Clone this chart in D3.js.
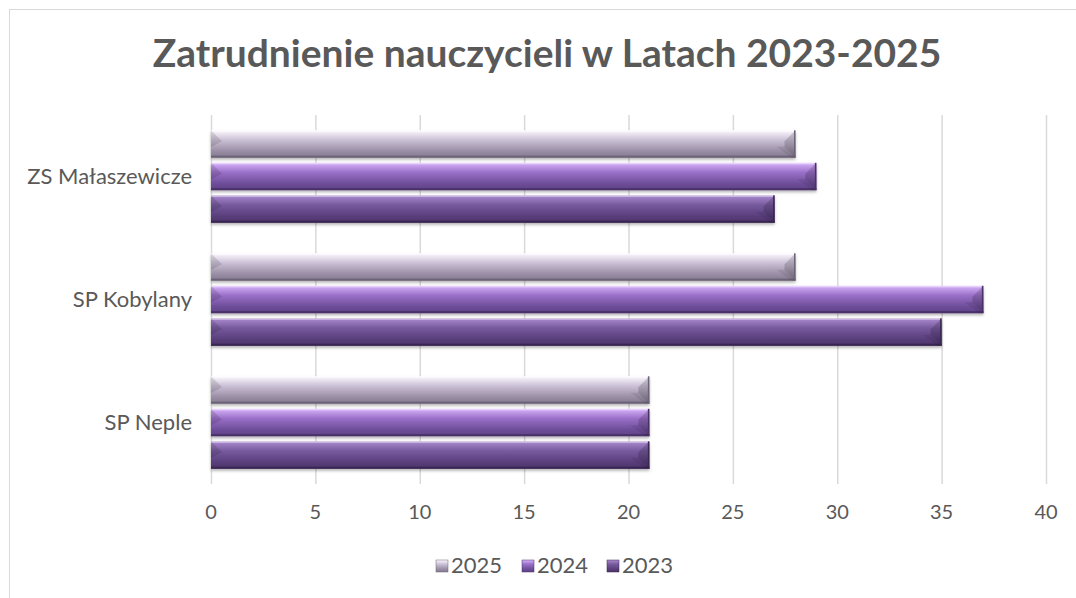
<!DOCTYPE html>
<html><head><meta charset="utf-8">
<script src="https://cdn.jsdelivr.net/npm/d3@7"></script>
<style>body{margin:0;background:#fff;}svg{display:block;font-family:Lato,"Open Sans",sans-serif;}</style>
</head><body>
<svg id="c" width="1076" height="598"></svg>
<script>
const categories = ["ZS Małaszewicze", "SP Kobylany", "SP Neple"];
const seriesNames = ["2025", "2024", "2023"];
const values2025 = [28, 28, 21];
const values2024 = [29, 37, 21];
const values2023 = [27, 35, 21];
const xTicks = [0, 5, 10, 15, 20, 25, 30, 35, 40];
const title = "Zatrudnienie nauczycieli w Latach 2023-2025";

const series = [
  {name: seriesNames[0], values: values2025, stops: ["#fdf9ff", "#cbc1d6", "#9a8fa6", "#847a90"], edge: "#6d6378"},
  {name: seriesNames[1], values: values2024, stops: ["#d7b2fb", "#9a70c8", "#6e4e9a", "#5e4286"], edge: "#4a3268"},
  {name: seriesNames[2], values: values2023, stops: ["#ab8ad0", "#775a9e", "#5a3f7c", "#4b3368"], edge: "#3a2652"}
];

const svg = d3.select("#c");
const defs = svg.append("defs");
series.forEach((s, i) => {
  const g = defs.append("linearGradient").attr("id", "g" + i).attr("x1", 0).attr("y1", 0).attr("x2", 0).attr("y2", 1);
  [0, 0.35, 0.75, 1].forEach((o, j) => g.append("stop").attr("offset", o).attr("stop-color", s.stops[j]));
});
const f = defs.append("filter").attr("id", "sh").attr("x", "-5%").attr("y", "-20%").attr("width", "110%").attr("height", "160%");
f.append("feDropShadow").attr("dx", 0).attr("dy", 2).attr("stdDeviation", 1.5).attr("flood-color", "#000").attr("flood-opacity", 0.3);

svg.append("rect").attr("x", 9.5).attr("y", 9.5).attr("width", 1080).attr("height", 600)
  .attr("fill", "none").attr("stroke", "#d9d9d9");

const t = svg.append("text").attr("x", 547).attr("y", 67).attr("text-anchor", "middle")
  .attr("font-size", 38).attr("font-weight", "bold").attr("fill", "#595959").text(title);
const tw = t.node().getComputedTextLength();
t.attr("font-size", 38 * 789 / tw);

const x = d3.scaleLinear().domain([0, 40]).range([211, 1046]);
const y = d3.scaleBand().domain(categories).range([115, 484]);
const yi = d3.scaleBand().domain(seriesNames).range([0, y.bandwidth()]).paddingInner(0.16).paddingOuter(0.47);

svg.append("g").selectAll("line").data(xTicks).join("line")
  .attr("x1", d => x(d) + 0.5).attr("x2", d => x(d) + 0.5).attr("y1", y.range()[0]).attr("y2", y.range()[1])
  .attr("stroke", "#d9d9d9").attr("stroke-width", 1.5);

svg.append("g").selectAll("text").data(xTicks).join("text")
  .attr("x", d => x(d)).attr("y", 519).attr("text-anchor", "middle")
  .attr("font-size", 20).attr("fill", "#595959").text(d => d);

svg.append("g").selectAll("text").data(categories).join("text")
  .attr("x", 192).attr("y", d => y(d) + y.bandwidth() / 2 + 7).attr("text-anchor", "end")
  .attr("font-size", 22).attr("fill", "#595959").text(d => d);

const bars = [];
series.forEach((s, i) => categories.forEach((c, k) => bars.push({s, i, c, v: s.values[k]})));
const bg = svg.append("g");
const h = yi.bandwidth();
const bev = 11;
bars.forEach(b => {
  const y0 = y(b.c) + yi(b.s.name);
  const x0 = x(0), x1 = x(b.v);
  const g = bg.append("g");
  g.append("rect").attr("x", x0).attr("y", y0).attr("width", x1 - x0).attr("height", h)
    .attr("fill", "url(#g" + b.i + ")").attr("filter", "url(#sh)");
  g.append("rect").attr("x", x0).attr("y", y0).attr("width", x1 - x0).attr("height", 1.5)
    .attr("fill", "#fff").attr("opacity", 0.45);
  g.append("rect").attr("x", x0).attr("y", y0 + h - 2).attr("width", x1 - x0).attr("height", 2)
    .attr("fill", b.s.edge);
  g.append("polygon").attr("points", `${x0},${y0} ${x0 + bev},${y0 + bev} ${x0},${y0 + h/2 + 3}`)
    .attr("fill", "#000").attr("opacity", 0.12);
  g.append("polygon").attr("points", `${x1},${y0} ${x1},${y0 + h} ${x1 - bev},${y0 + h - bev} ${x1 - bev},${y0 + bev}`)
    .attr("fill", "#000").attr("opacity", 0.16);
  g.append("polygon").attr("points", `${x1},${y0 + h} ${x1 - bev},${y0 + h - bev} ${x1 - bev - 8},${y0 + h - bev} ${x1 - 4},${y0 + h}`)
    .attr("fill", "#000").attr("opacity", 0.08);
  g.append("rect").attr("x", x1 - 1.5).attr("y", y0).attr("width", 1.5).attr("height", h)
    .attr("fill", b.s.edge);
});

const lx = [436, 522, 607];
const lg = svg.append("g");
series.forEach((s, i) => {
  lg.append("rect").attr("x", lx[i]).attr("y", 560).attr("width", 12).attr("height", 12)
    .attr("fill", "url(#g" + i + ")").attr("stroke", s.edge).attr("stroke-width", 0.5);
  lg.append("text").attr("x", lx[i] + 15).attr("y", 573).attr("font-size", 22).attr("fill", "#595959").text(s.name);
});
</script>
</body></html>
